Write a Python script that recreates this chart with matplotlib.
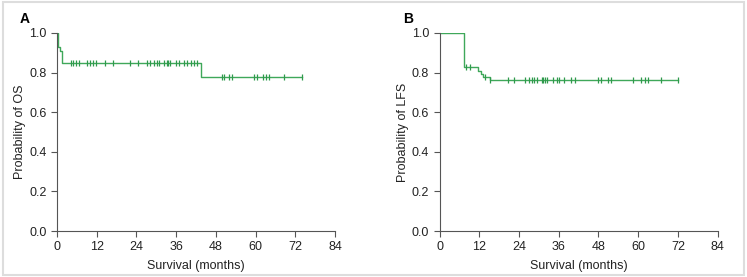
import matplotlib
matplotlib.use("Agg")
import matplotlib.pyplot as plt
from matplotlib.patches import Rectangle

plt.rcParams['font.family'] = ['Liberation Sans Narrow', 'Liberation Sans', 'DejaVu Sans']

# Panel A: overall survival (step points and censor times, months)
os_step_t = [0, 0.4, 0.8, 1.5, 43.5]
os_step_p = [1.0, 0.93, 0.91, 0.85, 0.78]
os_cens_t = [4.1, 4.9, 5.7, 6.7, 9.0, 10.0, 11.0, 11.8, 14.5, 17.0, 22.1, 24.4,
             27.3, 28.1, 29.3, 30.1, 30.9, 32.3, 33.1, 33.6, 34.1, 36.0, 37.0,
             38.4, 39.4, 40.4, 41.4, 42.2,
             49.8, 50.5, 52.1, 52.8, 59.6, 60.5, 62.3, 63.0, 64.0, 68.5, 73.9]

# Panel B: leukemia-free survival
lfs_step_t = [0, 7.5, 11.6, 12.5, 13.2, 15.1]
lfs_step_p = [1.0, 0.83, 0.81, 0.795, 0.78, 0.76]
lfs_cens_t = [8.1, 9.1, 13.8, 15.3, 20.7, 22.4, 25.9, 26.9, 27.9, 28.6, 29.4, 30.9,
              31.4, 31.9, 32.4, 34.4, 35.5, 36.2, 37.7, 39.6, 40.8, 48.0, 48.9,
              50.9, 51.8, 58.4, 61.0, 62.1, 63.1, 67.0, 71.9]

xticks = [0, 12, 24, 36, 48, 60, 72, 84]
yticks = [0.0, 0.2, 0.4, 0.6, 0.8, 1.0]
green = '#3fa85a'


def surv_at(t, step_t, step_p):
    p = step_p[0]
    for st, sp in zip(step_t, step_p):
        if t >= st:
            p = sp
    return p


def draw_panel(ax, step_t, step_p, cens_t, ylabel):
    end = max(cens_t)
    xs = list(step_t) + [end]
    ys = list(step_p) + [step_p[-1]]
    ax.step(xs, ys, where='post', color=green, lw=1.0)
    cy = [surv_at(t, step_t, step_p) for t in cens_t]
    ax.plot(cens_t, cy, ls='none', marker='|', ms=4.5, mew=0.9, color='#2f9a4c')
    ax.set_xlim(0, 84)
    ax.set_ylim(0, 1.0)
    ax.set_xticks(xticks)
    ax.set_yticks(yticks)
    ax.set_yticklabels([f'{v:.1f}' for v in yticks])
    for s in ['top', 'right']:
        ax.spines[s].set_visible(False)
    for s in ['left', 'bottom']:
        ax.spines[s].set_color('#555555')
        ax.spines[s].set_linewidth(0.8)
    ax.tick_params(direction='out', length=4, width=0.8, color='#555555',
                   labelsize=9, labelcolor='#222222')
    ax.set_xlabel('Survival (months)', fontsize=9, color='#222222', labelpad=5)
    ax.set_ylabel(ylabel, fontsize=9, color='#222222', labelpad=2)


fig = plt.figure(figsize=(7.47, 2.77), dpi=100)
fig.patches.append(Rectangle((0.004, 0.008), 0.992, 0.984, transform=fig.transFigure,
                             fill=False, edgecolor='#dddddd', lw=1.5))

ax1 = fig.add_axes([0.0763, 0.166, 0.3722, 0.715])
ax2 = fig.add_axes([0.5884, 0.166, 0.3722, 0.715])
draw_panel(ax1, os_step_t, os_step_p, os_cens_t, 'Probability of OS')
draw_panel(ax2, lfs_step_t, lfs_step_p, lfs_cens_t, 'Probability of LFS')

fig.text(0.026, 0.93, 'A', fontsize=10, fontweight='bold', va='center')
fig.text(0.540, 0.93, 'B', fontsize=10, fontweight='bold', va='center')

fig.savefig('out.png', dpi=100)
